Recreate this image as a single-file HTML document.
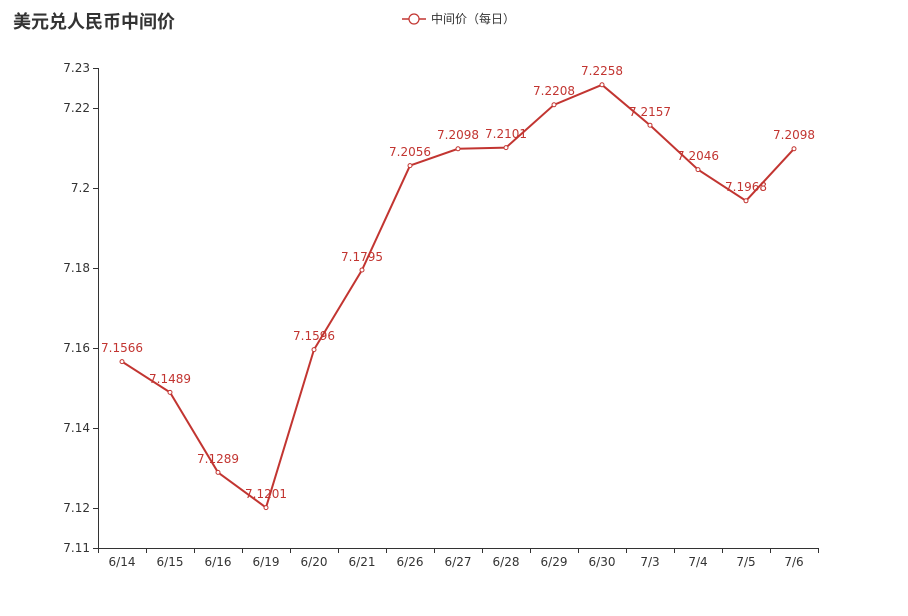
<!DOCTYPE html>
<html><head><meta charset="utf-8"><style>body{margin:0;background:#fff}svg{display:block}</style></head><body>
<svg width="908" height="616" xmlns="http://www.w3.org/2000/svg" font-family="DejaVu Sans, Noto Sans CJK SC, sans-serif">
<text x="13" y="28" font-size="18" font-weight="bold" fill="#333" font-family="Noto Sans CJK SC, sans-serif">美元兑人民币中间价</text>
<line x1="402" y1="19" x2="426" y2="19" stroke="#c23531" stroke-width="1.5"/>
<circle cx="414" cy="19" r="5" fill="#fff" stroke="#c23531" stroke-width="1.2"/>
<text x="431" y="23" font-size="12" fill="#333" font-family="Noto Sans CJK SC, sans-serif">中间价（每日）</text>
<g stroke="#333" stroke-width="1">
<line x1="98.5" y1="68" x2="98.5" y2="548"/>
<line x1="98" y1="548.5" x2="818" y2="548.5"/>
<path d="M93 68.5h5M93 108.5h5M93 188.5h5M93 268.5h5M93 348.5h5M93 428.5h5M93 508.5h5M93 548.5h5"/>
<path d="M98.5 548v5M146.5 548v5M194.5 548v5M242.5 548v5M290.5 548v5M338.5 548v5M386.5 548v5M434.5 548v5M482.5 548v5M530.5 548v5M578.5 548v5M626.5 548v5M674.5 548v5M722.5 548v5M770.5 548v5M818.5 548v5"/>
</g>
<g font-size="12" fill="#333" text-anchor="end">
<text x="90" y="72">7.23</text><text x="90" y="112">7.22</text><text x="90" y="192">7.2</text><text x="90" y="272">7.18</text><text x="90" y="352">7.16</text><text x="90" y="432">7.14</text><text x="90" y="512">7.12</text><text x="90" y="552">7.11</text>
</g>
<g font-size="12" fill="#333" text-anchor="middle">
<text x="122" y="566">6/14</text><text x="170" y="566">6/15</text><text x="218" y="566">6/16</text><text x="266" y="566">6/19</text><text x="314" y="566">6/20</text><text x="362" y="566">6/21</text><text x="410" y="566">6/26</text><text x="458" y="566">6/27</text><text x="506" y="566">6/28</text><text x="554" y="566">6/29</text><text x="602" y="566">6/30</text><text x="650" y="566">7/3</text><text x="698" y="566">7/4</text><text x="746" y="566">7/5</text><text x="794" y="566">7/6</text>
</g>
<polyline fill="none" stroke="#c23531" stroke-width="2" points="122,361.6 170,392.4 218,472.4 266,507.6 314,349.6 362,270 410,165.6 458,148.8 506,147.6 554,104.8 602,84.8 650,125.2 698,169.6 746,200.8 794,148.8"/>
<g fill="#fff" stroke="#c23531" stroke-width="1">
<circle cx="122" cy="361.6" r="2"/><circle cx="170" cy="392.4" r="2"/><circle cx="218" cy="472.4" r="2"/><circle cx="266" cy="507.6" r="2"/><circle cx="314" cy="349.6" r="2"/><circle cx="362" cy="270" r="2"/><circle cx="410" cy="165.6" r="2"/><circle cx="458" cy="148.8" r="2"/><circle cx="506" cy="147.6" r="2"/><circle cx="554" cy="104.8" r="2"/><circle cx="602" cy="84.8" r="2"/><circle cx="650" cy="125.2" r="2"/><circle cx="698" cy="169.6" r="2"/><circle cx="746" cy="200.8" r="2"/><circle cx="794" cy="148.8" r="2"/>
</g>
<g font-size="12" fill="#c23531" text-anchor="middle">
<text x="122" y="352">7.1566</text><text x="170" y="383">7.1489</text><text x="218" y="463">7.1289</text><text x="266" y="498">7.1201</text><text x="314" y="340">7.1596</text><text x="362" y="261">7.1795</text><text x="410" y="156">7.2056</text><text x="458" y="139">7.2098</text><text x="506" y="138">7.2101</text><text x="554" y="95">7.2208</text><text x="602" y="75">7.2258</text><text x="650" y="116">7.2157</text><text x="698" y="160">7.2046</text><text x="746" y="191">7.1968</text><text x="794" y="139">7.2098</text>
</g>
</svg>
</body></html>
